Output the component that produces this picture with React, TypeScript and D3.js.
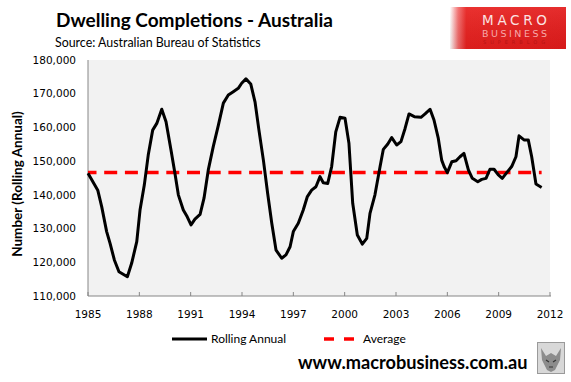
import React from "react";
import * as d3 from "d3";

const years: number[] = [
  1985.0, 1985.57, 1985.8, 1986.09, 1986.29, 1986.54, 1986.81, 1987.3, 1987.55, 1987.85,
  1988.04, 1988.29, 1988.52, 1988.78, 1989.02, 1989.31, 1989.56, 1989.85, 1990.08, 1990.28,
  1990.57, 1990.8, 1991.02, 1991.25, 1991.55, 1991.78, 1992.03, 1992.32, 1992.62, 1992.91,
  1993.2, 1993.49, 1993.78, 1993.98, 1994.23, 1994.51, 1994.76, 1994.99, 1995.25, 1995.5,
  1995.74, 1995.99, 1996.32, 1996.57, 1996.81, 1997.0, 1997.29, 1997.58, 1997.82, 1998.07,
  1998.32, 1998.56, 1998.75, 1999.01, 1999.24, 1999.48, 1999.73, 2000.02, 2000.25, 2000.47,
  2000.74, 2001.03, 2001.29, 2001.48, 2001.77, 2002.07, 2002.26, 2002.52, 2002.75, 2003.04,
  2003.29, 2003.53, 2003.76, 2004.07, 2004.46, 2004.7, 2004.99, 2005.22, 2005.47, 2005.67,
  2005.81, 2006.0, 2006.26, 2006.51, 2006.74, 2006.97, 2007.23, 2007.46, 2007.78, 2008.01,
  2008.26, 2008.49, 2008.73, 2008.98, 2009.21, 2009.47, 2009.76, 2010.01, 2010.19, 2010.48,
  2010.73, 2010.93, 2011.18, 2011.51,
];

const rollingAnnual: number[] = [
  146400, 141400, 136500, 129100, 125600, 120700, 117200, 115700, 119700, 126100,
  135500, 142900, 151800, 159200, 161200, 165400, 161700, 153300, 146400, 140000,
  135500, 133500, 131100, 132800, 134200, 139000, 147400, 154300, 160700, 167200,
  169600, 170600, 171600, 173100, 174400, 172900, 167600, 159200, 150300, 140400,
  131600, 123600, 121200, 122200, 124600, 129100, 131600, 135500, 139500, 141400,
  142400, 145400, 143600, 143400, 148400, 158700, 163000, 162700, 155300, 137500,
  128100, 125400, 127100, 134500, 140000, 148400, 153500, 155100, 157000, 154800,
  155800, 159700, 164000, 163200, 163000, 164000, 165400, 162200, 156800, 150300,
  148400, 146600, 149800, 150100, 151300, 152300, 147400, 144900, 143900, 144600,
  144900, 147600, 147600, 145900, 144900, 146600, 148400, 151300, 157500, 156300,
  156300, 151300, 143200, 142200,
];

const averageValue = 146600;

const xTicks: number[] = [1985, 1988, 1991, 1994, 1997, 2000, 2003, 2006, 2009, 2012];
const yTicks: number[] = [110000, 120000, 130000, 140000, 150000, 160000, 170000, 180000];

const titleText = "Dwelling Completions - Australia";
const sourceText = "Source: Australian Bureau of Statistics";
const yAxisTitle = "Number (Rolling Annual)";
const legendLabels = ["Rolling Annual", "Average"];
const footerText = "www.macrobusiness.com.au";

const W = 571;
const H = 382;
const plot = { left: 88, right: 550, top: 60, bottom: 296 };

export default function App() {
  const x = d3.scaleLinear().domain([1985, 2012]).range([plot.left, plot.right]);
  const y = d3.scaleLinear().domain([110000, 180000]).range([plot.bottom, plot.top]);
  const pts = years.map((t, i) => [t, rollingAnnual[i]] as [number, number]);
  const line = d3
    .line<[number, number]>()
    .x((d) => x(d[0]))
    .y((d) => y(d[1]));
  const fmt = d3.format(",");
  const axisFont = "'DejaVu Sans', Verdana, sans-serif";
  const cal = "Lato, 'Open Sans', sans-serif";
  const logoFont = "'DejaVu Sans', sans-serif";

  return (
    <svg
      width={W}
      height={H}
      style={{ position: "absolute", left: 0, top: 0, background: "#fff" }}
    >
      <defs>
        <linearGradient id="logoGrad" x1="0" x2="1" y1="0" y2="0">
          <stop offset="0" stopColor="#ffffff" />
          <stop offset="0.07" stopColor="#f26b6b" />
          <stop offset="0.14" stopColor="#e8201e" />
          <stop offset="1" stopColor="#e31b1b" />
        </linearGradient>
        <linearGradient id="logoShade" x1="0" x2="0" y1="0" y2="1">
          <stop offset="0" stopColor="#ffffff" stopOpacity="0.08" />
          <stop offset="1" stopColor="#000000" stopOpacity="0.06" />
        </linearGradient>
      </defs>

      {/* Title */}
      <text x={56} y={27} fontFamily={cal} fontWeight="bold" fontSize={19} fill="#000">
        {titleText}
      </text>
      <text x={55} y={47} fontFamily={cal} fontSize={12.4} fill="#000">
        {sourceText}
      </text>

      {/* Logo */}
      <rect x={450} y={7} width={116} height={42} fill="url(#logoGrad)" />
      <rect x={450} y={7} width={116} height={42} fill="url(#logoShade)" />
      <text x={482} y={24.5} textLength={65} lengthAdjust="spacing" fontFamily={logoFont} fontSize={13.5} fill="#fbe3e3">
        MACRO
      </text>
      <text x={482} y={37} textLength={65} lengthAdjust="spacing" fontFamily={logoFont} fontSize={9.5} fill="#f6a9a9">
        BUSINESS
      </text>
      <text x={483} y={44} textLength={62} lengthAdjust="spacing" fontFamily={logoFont} fontSize={5} fill="#b51313">
        SUPERBLOG
      </text>

      {/* Plot area */}
      <rect
        x={plot.left}
        y={plot.top}
        width={plot.right - plot.left}
        height={plot.bottom - plot.top}
        fill="#f2f2f2"
      />
      <line x1={plot.left} x2={plot.left} y1={plot.top} y2={plot.bottom} stroke="#868686" strokeWidth={1} />
      <line x1={plot.left} x2={plot.right + 1} y1={plot.bottom} y2={plot.bottom} stroke="#868686" strokeWidth={1} />
      {xTicks.map((t) => (
        <line key={"xt" + t} x1={x(t)} x2={x(t)} y1={plot.bottom} y2={plot.bottom - 4} stroke="#868686" strokeWidth={1} />
      ))}

      {/* Y tick labels */}
      {yTicks.map((v) => (
        <text
          key={"yl" + v}
          x={76}
          y={y(v)}
          dy="0.35em"
          textAnchor="end"
          fontFamily={axisFont}
          fontSize={10.5}
          fill="#000"
        >
          {fmt(v)}
        </text>
      ))}
      {/* X tick labels */}
      {xTicks.map((t) => (
        <text
          key={"xl" + t}
          x={x(t)}
          y={314}
          dy="0.35em"
          textAnchor="middle"
          fontFamily={axisFont}
          fontSize={10.5}
          fill="#000"
        >
          {t}
        </text>
      ))}

      {/* Y axis title */}
      <text
        transform={`translate(17,${(plot.top + plot.bottom) / 2 + 6}) rotate(-90)`}
        textAnchor="middle"
        dy="0.35em"
        fontFamily={cal}
        fontWeight="bold"
        fontSize={13.5}
        fill="#000"
      >
        {yAxisTitle}
      </text>

      {/* Average line */}
      <line
        x1={plot.left}
        x2={x(years[years.length - 1])}
        y1={y(averageValue)}
        y2={y(averageValue)}
        stroke="#ff0000"
        strokeWidth={3.5}
        strokeDasharray="13,7.7"
        strokeDashoffset={4.5}
      />

      {/* Rolling annual line */}
      <path d={line(pts) || ""} fill="none" stroke="#000" strokeWidth={3} strokeLinejoin="round" />

      {/* Legend */}
      <line x1={172} x2={207} y1={339} y2={339} stroke="#000" strokeWidth={3} />
      <text x={211} y={339} dy="0.35em" fontFamily={cal} fontSize={12} fill="#000">
        {legendLabels[0]}
      </text>
      <line x1={324} x2={357} y1={339} y2={339} stroke="#ff0000" strokeWidth={3.5} strokeDasharray="10,10" />
      <text x={363} y={339} dy="0.35em" fontFamily={cal} fontSize={12} fill="#000">
        {legendLabels[1]}
      </text>

      {/* Footer */}
      <text x={298} y={363} dy="0.35em" fontFamily={cal} fontWeight="bold" fontSize={18.2} fill="#000">
        {footerText}
      </text>

      {/* Wolf badge */}
      <rect x={537.5} y={342.5} width={27} height={31} fill="#d8d8d8" stroke="#9a9a9a" strokeWidth={1} />
      <path d="M541,348 L546,356 L551,353 L556,356 L561,348 L560,360 L555,370 L551,372 L547,370 L542,360 Z" fill="#8c8c8c" />
      <path d="M546,360 L549,362 M556,360 L553,362 M549,367 L553,367" stroke="#333" strokeWidth={1.2} />
    </svg>
  );
}
